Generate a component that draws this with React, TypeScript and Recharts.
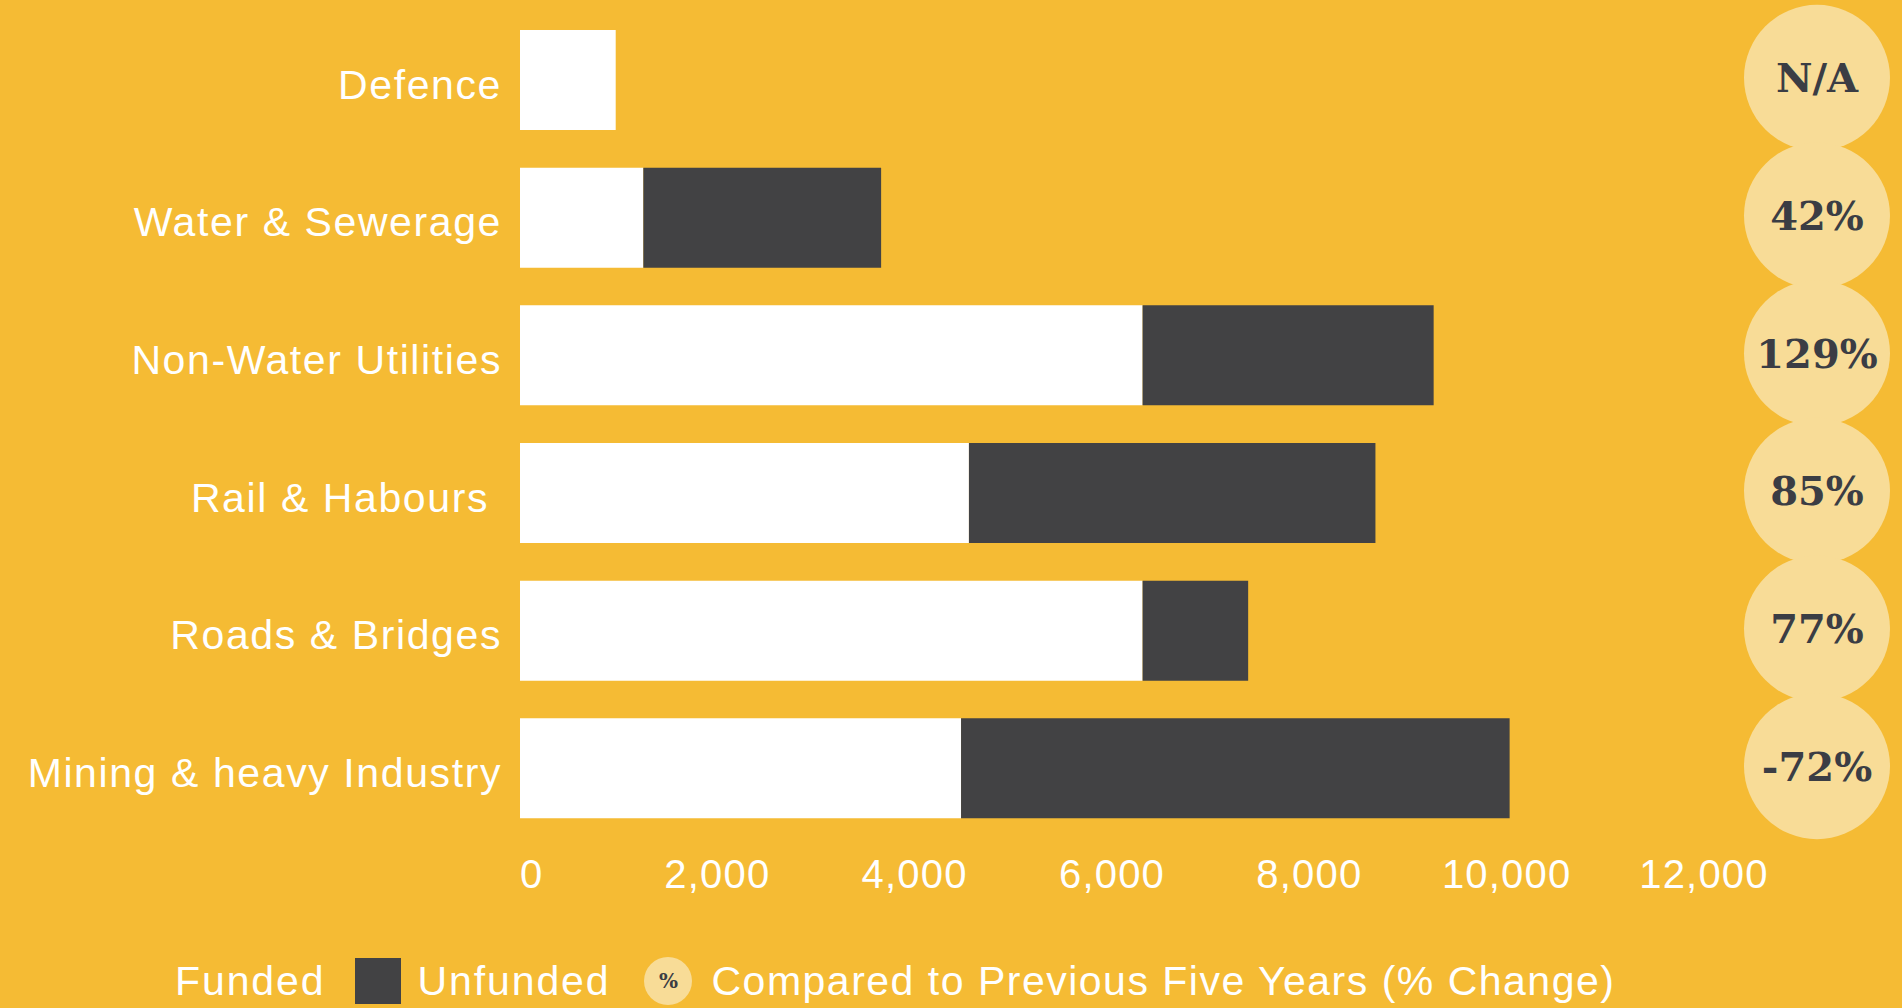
import React from "react";
import { BarChart, Bar, XAxis, YAxis, Legend } from "recharts";

const categories = [
  "Defence",
  "Water & Sewerage",
  "Non-Water Utilities",
  "Rail & Habours ",
  "Roads & Bridges",
  "Mining & heavy Industry",
];
const funded = [970, 1250, 6310, 4550, 6310, 4470];
const unfunded = [0, 2410, 2950, 4120, 1070, 5560];
const change = ["N/A", "42%", "129%", "85%", "77%", "-72%"];
const xTicks = [0, 2000, 4000, 6000, 8000, 10000, 12000];

const BG = "#F5BB34";
const DARK = "#424244";
const PALE = "#F8DC97";
const TEXT_DARK = "#3B3D44";
const SANS = "'Liberation Sans', Arial, sans-serif";
const SLAB = "'DejaVu Serif', serif";

const data = categories.map((name, i) => ({
  name,
  funded: funded[i],
  unfunded: unfunded[i],
  change: change[i],
}));

const CategoryTick = (props: any) => {
  const { x, y, payload } = props;
  return (
    <text
      x={x}
      y={y + 4}
      dy="0.36em"
      textAnchor="end"
      fill="#fff"
      fontFamily={SANS}
      fontSize={41}
      letterSpacing={1.6}
      style={{ whiteSpace: "pre" }}
    >
      {payload.value}
    </text>
  );
};

const ValueTick = (props: any) => {
  const { x, y, payload } = props;
  const v = payload.value;
  return (
    <text
      x={x}
      y={y}
      dy="0.71em"
      textAnchor={v === 0 ? "start" : "middle"}
      fill="#fff"
      fontFamily={SANS}
      fontSize={40}
      letterSpacing={1.2}
    >
      {v.toLocaleString("en-US")}
    </text>
  );
};

const ChangeTick = (props: any) => {
  const { x, y, payload } = props;
  const cx = x + 113;
  return (
    <g>
      <circle cx={cx} cy={y - 2} r={73} fill={PALE} />
      <text
        x={cx}
        y={y - 2}
        dy="0.36em"
        textAnchor="middle"
        fill={TEXT_DARK}
        fontFamily={SLAB}
        fontWeight="bold"
        fontSize={40}
      >
        {payload.value}
      </text>
    </g>
  );
};

const LegendContent = () => (
  <div
    style={{
      display: "flex",
      alignItems: "center",
      height: 60,
      paddingLeft: 175,
      paddingTop: 6,
      boxSizing: "border-box",
      fontFamily: SANS,
      fontSize: 41,
      letterSpacing: 1.9,
      color: "#fff",
      whiteSpace: "nowrap",
    }}
  >
    <span>Funded</span>
    <span
      style={{
        display: "inline-block",
        width: 46,
        height: 46,
        background: DARK,
        marginLeft: 30,
        marginRight: 16,
      }}
    />
    <span>Unfunded</span>
    <span
      style={{
        display: "inline-flex",
        alignItems: "center",
        justifyContent: "center",
        width: 48,
        height: 48,
        borderRadius: "50%",
        background: PALE,
        color: TEXT_DARK,
        fontFamily: SLAB,
        fontWeight: "bold",
        fontSize: 20,
        letterSpacing: 0,
        marginLeft: 34,
        marginRight: 19,
      }}
    >
      %
    </span>
    <span style={{ letterSpacing: 1.5 }}>
      Compared to Previous Five Years (% Change)
    </span>
  </div>
);

export default function App() {
  return (
    <div
      style={{
        position: "absolute",
        left: 0,
        top: 0,
        width: 1902,
        height: 1008,
        background: BG,
        overflow: "hidden",
      }}
    >
      <BarChart
        width={1902}
        height={1008}
        data={data}
        layout="vertical"
        margin={{ top: 11, right: 0, left: 0, bottom: 0 }}
        barSize={100}
      >
        <XAxis
          type="number"
          domain={[0, 12000]}
          ticks={xTicks}
          axisLine={false}
          tickLine={false}
          tickSize={0}
          tickMargin={23}
          height={111}
          tick={<ValueTick />}
          interval={0}
        />
        <YAxis
          yAxisId="left"
          type="category"
          dataKey="name"
          width={520}
          axisLine={false}
          tickLine={false}
          tickSize={0}
          tickMargin={18}
          tick={<CategoryTick />}
          interval={0}
        />
        <YAxis
          yAxisId="right"
          orientation="right"
          type="category"
          dataKey="change"
          width={198}
          axisLine={false}
          tickLine={false}
          tickSize={0}
          tickMargin={0}
          tick={<ChangeTick />}
          interval={0}
        />
        <Legend
          verticalAlign="bottom"
          align="left"
          height={60}
          content={<LegendContent />}
          wrapperStyle={{ left: 0, width: 1902 }}
        />
        <Bar
          yAxisId="left"
          dataKey="funded"
          name="Funded"
          stackId="a"
          fill="#FFFFFF"
          isAnimationActive={false}
        />
        <Bar
          yAxisId="left"
          dataKey="unfunded"
          name="Unfunded"
          stackId="a"
          fill={DARK}
          isAnimationActive={false}
        />
      </BarChart>
    </div>
  );
}
